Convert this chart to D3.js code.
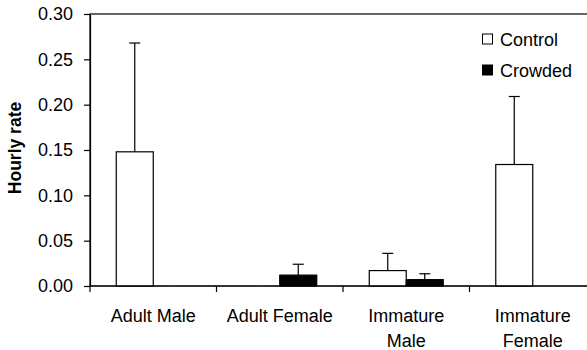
<!DOCTYPE html>
<html>
<head>
<meta charset="utf-8">
<script src="https://cdn.jsdelivr.net/npm/d3@7"></script>
<style>
  body { margin: 0; background: #fff; }
  text { font-family: Arial, "Liberation Sans", sans-serif; }
</style>
</head>
<body>
<div id="chart"></div>
<script>
// data
const categories = [["Adult Male"], ["Adult Female"], ["Immature", "Male"], ["Immature", "Female"]];
const series = ["Control", "Crowded"];
const controlMean = [0.148, 0, 0.017, 0.134];
const controlErr = [0.120, 0, 0.019, 0.075];
const crowdedMean = [0, 0.012, 0.007, 0];
const crowdedErr = [0, 0.012, 0.0065, 0];
const yTicks = [0, 0.05, 0.10, 0.15, 0.20, 0.25, 0.30];

const W = 587, H = 350;
const plotL = 90, plotT = 14, plotB = 286, plotR = 596;
const fs = 18;

const svg = d3.select("#chart").append("svg")
    .attr("width", W).attr("height", H);

const x = d3.scaleBand().domain(d3.range(categories.length)).range([plotL, plotR]).padding(0);
const xs = d3.scaleBand().domain(series).range([0, x.bandwidth()]).paddingInner(0).paddingOuter(0.71);
const y = d3.scaleLinear().domain([0, 0.3]).range([plotB, plotT]);

const rows = [];
categories.forEach((c, i) => {
    rows.push({ cat: i, s: "Control", v: controlMean[i], e: controlErr[i] });
    rows.push({ cat: i, s: "Crowded", v: crowdedMean[i], e: crowdedErr[i] });
});

// plot frame
svg.append("rect")
    .attr("x", plotL).attr("y", plotT)
    .attr("width", plotR - plotL).attr("height", plotB - plotT)
    .attr("fill", "none").attr("stroke", "#000").attr("stroke-width", 1.2);

// error bars (drawn first so bars sit on top)
const eb = svg.append("g").attr("stroke", "#000").attr("stroke-width", 1.2);
rows.forEach(d => {
    const cx = x(d.cat) + xs(d.s) + xs.bandwidth() / 2;
    eb.append("line").attr("x1", cx).attr("x2", cx).attr("y1", y(d.v)).attr("y2", y(d.v + d.e));
    eb.append("line").attr("x1", cx - 5.5).attr("x2", cx + 5.5).attr("y1", y(d.v + d.e)).attr("y2", y(d.v + d.e))
        .attr("stroke", d.e === 0 ? "#777" : "#000");
});

// bars
svg.selectAll(".bar")
    .data(rows.filter(d => d.v > 0))
    .enter().append("rect")
    .attr("x", d => x(d.cat) + xs(d.s))
    .attr("y", d => y(d.v))
    .attr("width", xs.bandwidth())
    .attr("height", d => plotB - y(d.v))
    .attr("fill", d => d.s === "Control" ? "#fff" : "#000")
    .attr("stroke", "#000")
    .attr("stroke-width", 1.2);

// y axis
const yAxis = svg.append("g")
    .attr("transform", `translate(${plotL},0)`)
    .call(d3.axisLeft(y).tickValues(yTicks).tickFormat(d3.format(".2f")).tickSizeInner(6).tickSizeOuter(0));
yAxis.select(".domain").attr("stroke", "#000").attr("stroke-width", 1.2);
yAxis.selectAll(".tick line").attr("stroke-width", 1.2);
yAxis.selectAll(".tick text").attr("font-size", fs).attr("x", -17).attr("fill", "#000")
    .style("font-family", "Arial, 'Liberation Sans', sans-serif");

// x axis ticks at category boundaries
const xb = svg.append("g").attr("stroke", "#000").attr("stroke-width", 1.2);
xb.append("line").attr("x1", plotL).attr("x2", plotR).attr("y1", plotB).attr("y2", plotB);
d3.range(categories.length + 1).forEach(i => {
    const bx = i < categories.length ? x(i) : x(i - 1) + x.bandwidth();
    xb.append("line").attr("x1", bx).attr("x2", bx).attr("y1", plotB).attr("y2", plotB + 6);
});

// category labels
categories.forEach((lines, i) => {
    const t = svg.append("text")
        .attr("x", x(i) + x.bandwidth() / 2)
        .attr("y", 322)
        .attr("text-anchor", "middle")
        .attr("font-size", fs);
    lines.forEach((l, j) => {
        t.append("tspan").attr("x", x(i) + x.bandwidth() / 2).attr("dy", j === 0 ? 0 : 24.5).text(l);
    });
});

// y title
svg.append("text")
    .attr("transform", `translate(21,148) rotate(-90)`)
    .attr("text-anchor", "middle")
    .attr("font-size", 17.5)
    .attr("font-weight", "bold")
    .text("Hourly rate");

// legend
const legend = svg.append("g");
series.forEach((s, i) => {
    const ly = 34 + i * 31;
    legend.append("rect")
        .attr("x", 482.5).attr("y", ly)
        .attr("width", 10).attr("height", 10)
        .attr("fill", s === "Control" ? "#fff" : "#000")
        .attr("stroke", "#000").attr("stroke-width", 1);
    legend.append("text")
        .attr("x", 500).attr("y", ly + 11.5)
        .attr("font-size", fs)
        .text(s);
});
</script>
</body>
</html>
